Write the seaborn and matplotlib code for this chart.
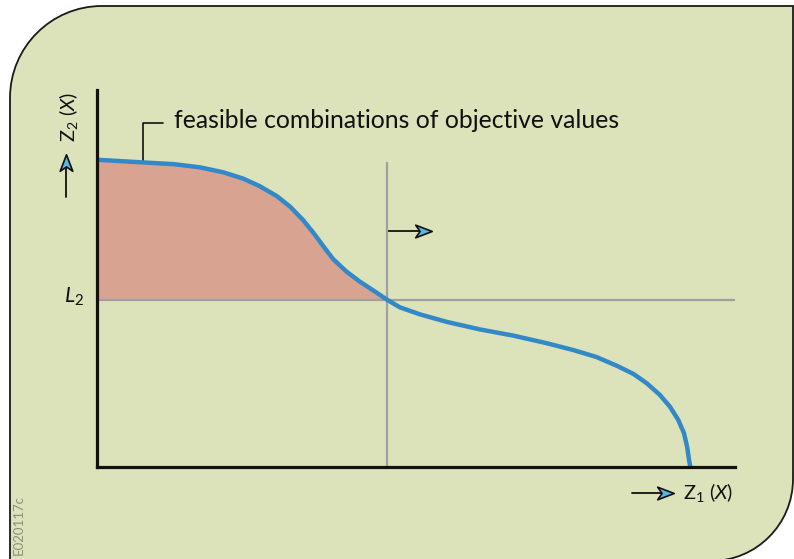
import numpy as np
import pandas as pd
import matplotlib
matplotlib.use("Agg")
import matplotlib.pyplot as plt
import seaborn as sns
from matplotlib.path import Path
from matplotlib.patches import PathPatch, Circle

# Pareto front: objective Z1 vs objective Z2
z1 = [0.00, 0.67, 1.20, 1.61, 1.98, 2.29, 2.55, 2.82, 3.03, 3.23, 3.39, 3.55,
      3.70, 3.91, 4.12, 4.33, 4.55, 4.75, 5.06, 5.48, 6.00, 6.53, 7.05, 7.47,
      7.83, 8.15, 8.41, 8.62, 8.82, 8.98, 9.11, 9.20, 9.25, 9.28, 9.30]
z2 = [4.89, 4.85, 4.82, 4.77, 4.69, 4.59, 4.47, 4.31, 4.14, 3.93, 3.73, 3.51,
      3.31, 3.11, 2.95, 2.81, 2.66, 2.54, 2.43, 2.31, 2.19, 2.09, 1.97, 1.86,
      1.75, 1.61, 1.48, 1.33, 1.15, 0.96, 0.75, 0.54, 0.32, 0.11, 0.00]
L1 = 4.55   # bound on Z1
L2 = 2.66   # bound on Z2
x_max, y_max = 10.0, 6.0
vline_top = 4.85

annotation = "feasible combinations of objective values"
code_label = "E020117c"

front = pd.DataFrame({"Z1": z1, "Z2": z2})

sns.set_theme(style="white")
plt.rcParams["font.family"] = ["Lato", "DejaVu Sans"]
plt.rcParams["mathtext.fontset"] = "custom"
plt.rcParams["mathtext.rm"] = "Lato"
plt.rcParams["mathtext.it"] = "Lato:italic"

W, H = 794, 559
fig = plt.figure(figsize=(W / 100, H / 100), dpi=100)
fig.patch.set_facecolor("white")

# background panel, pixel coordinates
bg = fig.add_axes([0, 0, 1, 1])
bg.set_xlim(0, W)
bg.set_ylim(H, 0)
bg.axis("off")

panel_col = "#dce3ba"
r1, r2 = 92, 82
left, top, right, bottom = 10, 6, 793, 561
k = 0.5523
verts = [
    (right, top), (left + r1, top),
    (left + r1 - k * r1, top), (left, top + r1 - k * r1), (left, top + r1),
    (left, bottom), (right - r2, bottom),
    (right - r2 + k * r2, bottom), (right, bottom - r2 + k * r2), (right, bottom - r2),
    (right, top),
]
codes = [Path.MOVETO, Path.LINETO,
         Path.CURVE4, Path.CURVE4, Path.CURVE4,
         Path.LINETO, Path.LINETO,
         Path.CURVE4, Path.CURVE4, Path.CURVE4,
         Path.CLOSEPOLY]
bg.add_patch(PathPatch(Path(verts, codes), facecolor=panel_col,
                       edgecolor="#1a1a1a", lw=1.3))

# main chart
ax_l, ax_r, ax_b, ax_t = 97, 735, 467, 90
ax = fig.add_axes([ax_l / W, (H - ax_b) / H, (ax_r - ax_l) / W, (ax_b - ax_t) / H])
ax.set_facecolor("none")
ax.set_xlim(0, x_max)
ax.set_ylim(0, y_max)
ax.set_xticks([])
ax.set_yticks([])
for s in ["top", "right"]:
    ax.spines[s].set_visible(False)
for s in ["left", "bottom"]:
    ax.spines[s].set_color("#111111")
    ax.spines[s].set_linewidth(2.3)
    ax.spines[s].set_zorder(5)

# feasible region bounded by the front and Z2 >= L2, Z1 <= L1
part = front[front["Z1"] <= L1]
ax.fill_between(part["Z1"], L2, part["Z2"], color="#d8a491", lw=0, zorder=1)

ax.plot([0, x_max], [L2, L2], color="#a0a0a0", lw=1.6, zorder=2, solid_capstyle="butt")
ax.plot([L1, L1], [0, vline_top], color="#a0a0a0", lw=1.6, zorder=2, solid_capstyle="butt")

sns.lineplot(data=front, x="Z1", y="Z2", sort=False, color="#3388c8",
             lw=3.2, ax=ax, zorder=3, solid_joinstyle="round")
ax.set_xlabel("")
ax.set_ylabel("")

# arrow heads (notched, blue fill)
head = Path([(1, 0), (-0.7, 0.65), (-0.25, 0), (-0.7, -0.65), (1, 0)],
            [Path.MOVETO, Path.LINETO, Path.LINETO, Path.LINETO, Path.CLOSEPOLY])
head_up = Path([(0, 1), (0.65, -0.7), (0, -0.25), (-0.65, -0.7), (0, 1)],
               head.codes)
blue_head = "#5ab4e4"


def arrow(x0, y0, x1, y1, path):
    bg.plot([x0, x1], [y0, y1], color="#111111", lw=1.3, zorder=4)
    bg.plot([x1], [y1], marker=path, markersize=14, markerfacecolor=blue_head,
            markeredgecolor="#111111", markeredgewidth=1.2, zorder=5)


arrow(387, 231, 422, 231, head)
arrow(632, 493, 664, 493, head)
arrow(66, 197, 66, 164, head_up)

fs = 14.5
bg.text(683, 493, r"$\mathregular{Z_1}$ ($\mathit{X}$)", fontsize=fs, va="center",
        ha="left", color="#111111")
bg.text(68, 117, r"$\mathregular{Z_2}$ ($\mathit{X}$)", fontsize=fs, va="center",
        ha="center", rotation=90, color="#111111")
bg.text(64, 297, r"$\mathit{L}_{\mathregular{2}}$", fontsize=fs + 1, va="center",
        ha="left", color="#111111")

# annotation with leader line
bg.text(174, 121, annotation, fontsize=17.8, va="center", ha="left", color="#111111")
bg.plot([163, 143, 143], [123, 123, 174], color="#111111", lw=1.2, zorder=4)
bg.add_patch(Circle((143, 178), 5, facecolor="white", edgecolor="#111111",
                    lw=1.2, zorder=5))

bg.text(19, 555, code_label, fontsize=9.5, rotation=90, va="bottom",
        ha="center", color="#8a8f80")

fig.savefig("out.png", dpi=100)
